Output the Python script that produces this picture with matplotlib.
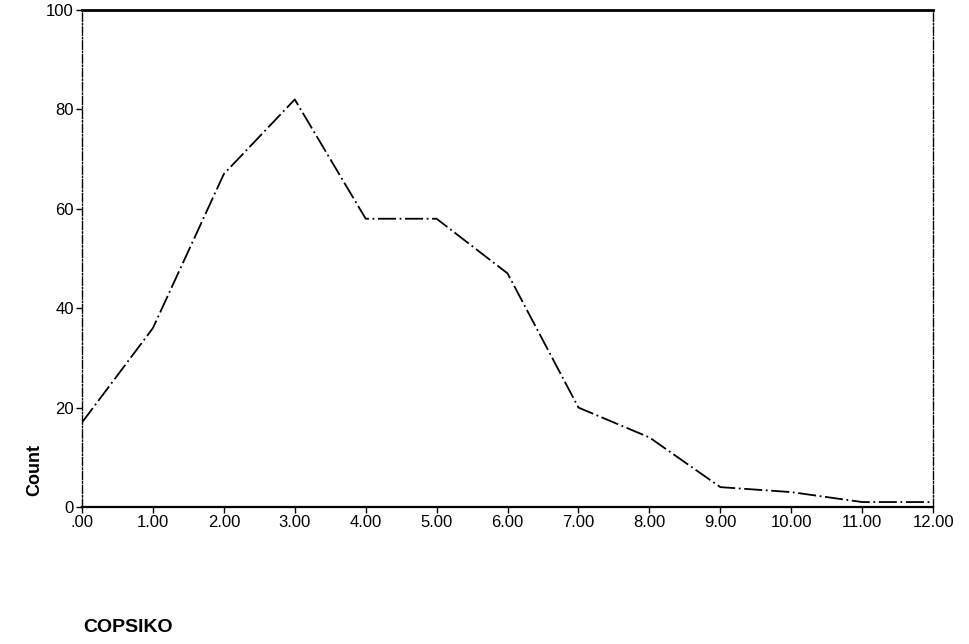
import matplotlib
matplotlib.use("Agg")
import matplotlib.pyplot as plt

copsiko = [0, 1, 2, 3, 4, 5, 6, 7, 8, 9, 10, 11, 12]
count = [17, 36, 67, 82, 58, 58, 47, 20, 14, 4, 3, 1, 1]
x_labels = [".00", "1.00", "2.00", "3.00", "4.00", "5.00", "6.00",
            "7.00", "8.00", "9.00", "10.00", "11.00", "12.00"]
y_ticks = [0, 20, 40, 60, 80, 100]

plt.rcParams['font.family'] = ['Liberation Sans', 'DejaVu Sans']

fig = plt.figure(figsize=(9.69, 6.44), dpi=100)
ax = fig.add_axes([0.0846, 0.2127, 0.8784, 0.7718])

ax.plot(copsiko, count, color="black", linewidth=1.3,
        linestyle=(0, (10, 2, 1, 2)))

ax.set_xlim(0, 12)
ax.set_ylim(0, 100)
ax.set_xticks(copsiko)
ax.set_xticklabels(x_labels)
ax.set_yticks(y_ticks)
ax.tick_params(direction="out", length=4, width=1, labelsize=12, pad=2)

for side in ["left", "right"]:
    ax.spines[side].set_linestyle((0, (6, 1.5, 1, 1.5)))
    ax.spines[side].set_linewidth(1.0)
ax.spines["top"].set_linewidth(2.0)
ax.spines["bottom"].set_linewidth(1.6)

fig.text(0.036, 0.270, "Count", rotation=90, fontsize=13,
         fontweight="bold", ha="center", va="center")
fig.text(0.086, 0.026, "COPSIKO", fontsize=14, fontweight="bold",
         ha="left", va="center")

fig.savefig("out.png", dpi=100)
